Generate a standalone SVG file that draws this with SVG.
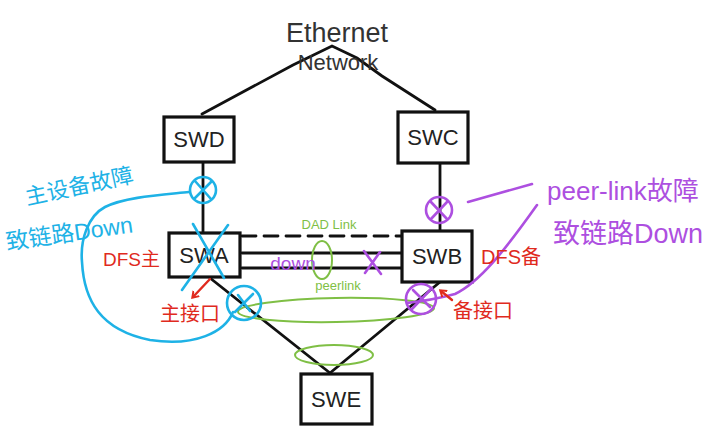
<svg xmlns="http://www.w3.org/2000/svg" width="713" height="437" viewBox="0 0 713 437">
<style>
.box{fill:#fff;stroke:#111;stroke-width:3.2;stroke-linejoin:miter}
.lbl{font-family:"Liberation Sans","DejaVu Sans",sans-serif;font-size:22px;fill:#222;text-anchor:middle}
.ln{fill:none;stroke:#111;stroke-width:2.8;stroke-linecap:round}
.blue{fill:none;stroke:#1eb2e6;stroke-width:2.6;stroke-linecap:round}
.purple{fill:none;stroke:#ad4fe0;stroke-width:2.6;stroke-linecap:round}
.green{fill:none;stroke:#7fbf45;stroke-width:2;stroke-linecap:round}
.red{fill:none;stroke:#e02a1e;stroke-width:2.4;stroke-linecap:round}
.tb{font-family:"Liberation Sans","Noto Sans CJK SC",sans-serif;fill:#1eb2e6}
.tp{font-family:"Liberation Sans","Noto Sans CJK SC",sans-serif;fill:#ad4fe0}
.tr{font-family:"Liberation Sans","Noto Sans CJK SC",sans-serif;fill:#e02a1e}
.tg{font-family:"Liberation Sans","Noto Sans CJK SC",sans-serif;fill:#7fbf45}
</style>
<defs>
<marker id="redArrow" markerWidth="10" markerHeight="10" refX="5" refY="5" orient="auto" markerUnits="userSpaceOnUse">
<path d="M0,1 L6,5 L0,9" fill="none" stroke="#e02a1e" stroke-width="2"/>
</marker>
</defs>
<rect width="713" height="437" fill="#fff"/>

<g id="connectors">
<path class="ln" d="M202,114 L293,65 L332,46 L357,58 L382,76 L435,110"/>
<line class="ln" x1="203" y1="162" x2="203" y2="233"/>
<line class="ln" x1="440" y1="164" x2="440" y2="231"/>
<line class="ln" x1="242" y1="236" x2="402" y2="236" stroke-dasharray="14,8"/>
<line class="ln" x1="242" y1="253" x2="402" y2="253"/>
<line class="ln" x1="242" y1="268" x2="402" y2="268"/>
<line class="ln" x1="210" y1="278" x2="330" y2="373"/>
<line class="ln" x1="440" y1="282" x2="330" y2="373"/>
</g>

<g id="node-ethernet">
<text x="337" y="42" font-family="Liberation Sans, sans-serif" font-size="27" fill="#333" text-anchor="middle">Ethernet</text>
<text x="338" y="70" font-family="Liberation Sans, sans-serif" font-size="22" fill="#333" text-anchor="middle">Network</text>
</g>
<g id="node-swd">
<rect class="box" x="164" y="117" width="70" height="45"/>
<text class="lbl" x="199" y="147">SWD</text>
</g>
<g id="node-swc">
<rect class="box" x="398" y="112" width="70" height="51"/>
<text class="lbl" x="433" y="145">SWC</text>
</g>
<g id="node-swa">
<rect class="box" x="169" y="233" width="71" height="44"/>
<text class="lbl" x="204" y="263">SWA</text>
</g>
<g id="node-swb">
<rect class="box" x="402" y="231" width="70" height="51"/>
<text class="lbl" x="437" y="264">SWB</text>
</g>
<g id="node-swe">
<rect class="box" x="301" y="374" width="71" height="50"/>
<text class="lbl" x="336" y="407">SWE</text>
</g>

<g id="link-labels">
<text class="tg" x="329" y="229" font-size="13" text-anchor="middle">DAD Link</text>
<text class="tg" x="338" y="290" font-size="13" text-anchor="middle">peerlink</text>
<ellipse class="green" cx="322" cy="260" rx="10" ry="19"/>
<ellipse class="green" cx="336" cy="310" rx="98" ry="12" transform="rotate(-1 336 310)"/>
<ellipse class="green" cx="334" cy="355" rx="39" ry="10"/>
<text class="tp" x="293" y="270" font-size="19" text-anchor="middle">down</text>
<path class="purple" d="M364,251 L381,274 M380,252 L365,273"/>
</g>

<g id="annotation-blue">
<circle class="blue" cx="203" cy="190" r="13"/>
<path class="blue" d="M195,181 L211,199 M211,182 L195,198"/>
<path class="blue" d="M193,224 L224,278 M228,225 L182,290"/>
<circle class="blue" cx="244" cy="303" r="17"/>
<path class="blue" d="M235,312 L253,294 M238,295 L250,311"/>
<path class="blue" d="M189,192 C160,195 125,197 105,207 C88,216 80,240 82,262 C84,300 100,330 150,340 C195,347 225,332 233,312"/>
<text class="tb" x="27" y="205" font-size="22" transform="rotate(-12 27 205)">主设备故障</text>
<text class="tb" x="7" y="250" font-size="23" transform="rotate(-8 7 250)">致链路Down</text>
</g>

<g id="annotation-purple">
<circle class="purple" cx="439" cy="210" r="13"/>
<path class="purple" d="M431,202 L447,219 M447,202 L431,219"/>
<circle class="purple" cx="421" cy="299" r="15"/>
<path class="purple" d="M412,309 L432,288 M413,290 L430,307"/>
<path class="purple" d="M468,202 L532,184"/>
<path class="purple" d="M407,303 C425,301 440,298 455,294 C480,282 505,250 537,205"/>
<text class="tp" x="547" y="200" font-size="26">peer-link故障</text>
<text class="tp" x="553" y="243" font-size="27">致链路Down</text>
</g>

<g id="annotation-red">
<text class="tr" x="103" y="266" font-size="19">DFS主</text>
<path class="red" d="M210,279 L193,297" marker-end="url(#redArrow)"/>
<text class="tr" x="160" y="321" font-size="20">主接口</text>
<text class="tr" x="481" y="264" font-size="20">DFS备</text>
<path class="red" d="M452,300 L441,291" marker-end="url(#redArrow)"/>
<text class="tr" x="453" y="318" font-size="20">备接口</text>
</g>
</svg>
